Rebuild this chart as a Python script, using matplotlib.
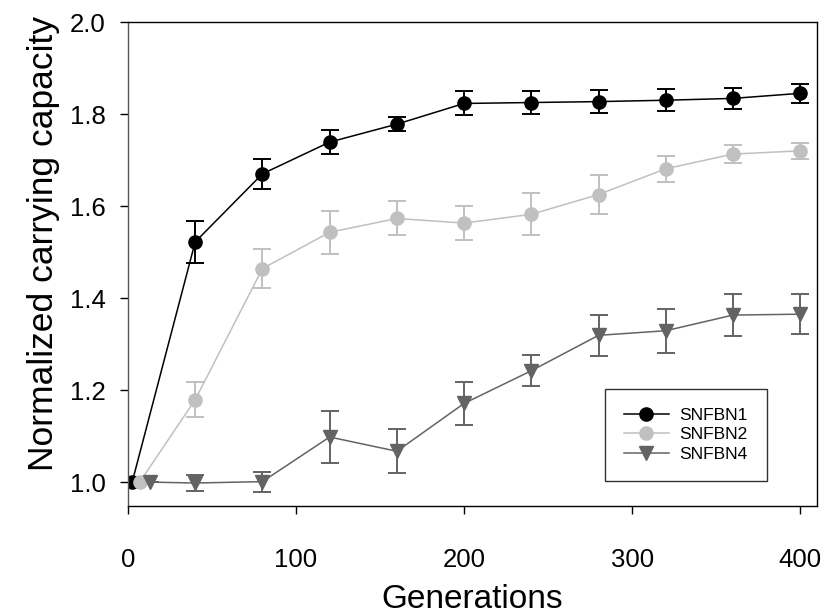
import numpy as np
import matplotlib
matplotlib.use('Agg')
import matplotlib.pyplot as plt
from matplotlib.lines import Line2D

plt.rcParams['font.family'] = ['Liberation Sans', 'DejaVu Sans']

# generations (first point of each series slightly offset in the original)
gen1 = [2.5, 40, 80, 120, 160, 200, 240, 280, 320, 360, 400]
gen2 = [7, 40, 80, 120, 160, 200, 240, 280, 320, 360, 400]
gen4 = [13, 40, 80, 120, 160, 200, 240, 280, 320, 360, 400]

snfbn1 = [1.0, 1.522, 1.670, 1.739, 1.778, 1.823, 1.825, 1.827, 1.830, 1.834, 1.845]
snfbn1_err = [0.0, 0.046, 0.033, 0.026, 0.015, 0.026, 0.025, 0.025, 0.024, 0.023, 0.020]

snfbn2 = [1.0, 1.179, 1.464, 1.543, 1.573, 1.563, 1.582, 1.625, 1.681, 1.713, 1.720]
snfbn2_err = [0.0, 0.038, 0.043, 0.047, 0.037, 0.037, 0.046, 0.042, 0.028, 0.020, 0.017]

snfbn4 = [1.0, 0.998, 1.001, 1.098, 1.067, 1.171, 1.242, 1.319, 1.329, 1.363, 1.365]
snfbn4_err = [0.0, 0.017, 0.022, 0.057, 0.048, 0.046, 0.034, 0.045, 0.048, 0.045, 0.044]

series = [
    (gen1, snfbn1, snfbn1_err, 'black', 'o', 9.5, 'SNFBN1'),
    (gen2, snfbn2, snfbn2_err, '#c0c0c0', 'o', 9.5, 'SNFBN2'),
    (gen4, snfbn4, snfbn4_err, '#636363', 'v', 10, 'SNFBN4'),
]

fig = plt.figure(figsize=(8.24, 6.15), dpi=100)
ax = fig.add_axes([0.1553, 0.1772, 0.8362, 0.787])

handles = []
for x, y, e, c, m, ms, lab in series:
    ax.errorbar(x, y, yerr=e, color=c, marker=m, ms=ms, lw=1.1,
                elinewidth=1.4, capsize=6.5, capthick=1.4)
    handles.append(Line2D([], [], color=c, marker=m, ms=ms, lw=1.1, label=lab))

ax.set_xlim(0, 410)
ax.set_ylim(0.948, 2.0)
ax.set_xticks([0, 100, 200, 300, 400])
ax.set_yticks([1.0, 1.2, 1.4, 1.6, 1.8, 2.0])
ax.set_yticklabels(['1.0', '1.2', '1.4', '1.6', '1.8', '2.0'])

ax.tick_params(axis='y', direction='out', length=6, width=1, pad=10, labelsize=18.5)
ax.tick_params(axis='x', direction='out', length=6, width=1, pad=24, labelsize=18.5)
for s in ax.spines.values():
    s.set_linewidth(1.0)
ax.spines['left'].set_color('#555555')

ax.set_xlabel('Generations', fontsize=24, labelpad=9)
ax.set_ylabel('Normalized carrying capacity', fontsize=25.5)
ax.yaxis.set_label_coords(-0.098, 0.543)

leg = ax.legend(handles=handles, loc='lower right', bbox_to_anchor=(0.927, 0.052),
                fontsize=12.5, frameon=True, fancybox=False, edgecolor='black',
                handlelength=2.6, handletextpad=0.6, borderpad=1.1,
                labelspacing=0.25, borderaxespad=0)
leg.get_frame().set_linewidth(1.0)

fig.savefig('out.png', dpi=100)
